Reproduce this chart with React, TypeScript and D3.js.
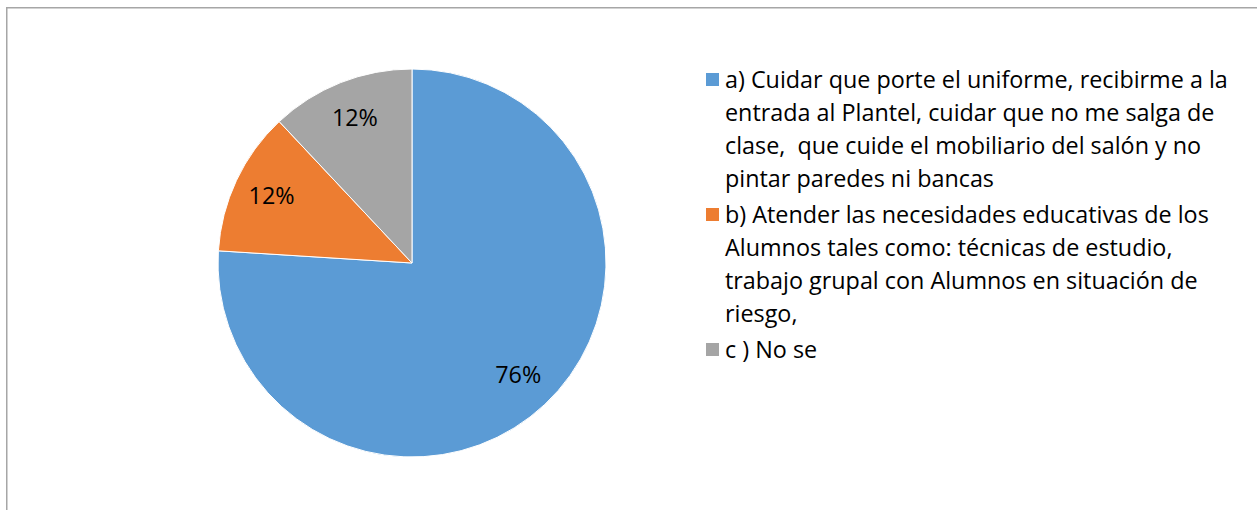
import React, { useLayoutEffect, useRef, useState } from "react";
import * as d3 from "d3";

const categories = ["a", "b", "c"];
const values = [76, 12, 12];
const valueLabels = ["76%", "12%", "12%"];
const legendLines = [
  [
    "a) Cuidar que porte el uniforme, recibirme a la",
    "entrada al Plantel, cuidar que no me salga de",
    "clase,  que cuide el mobiliario del salón y no",
    "pintar paredes ni bancas",
  ],
  [
    "b) Atender las necesidades educativas de los",
    "Alumnos tales como: técnicas de estudio,",
    "trabajo grupal con Alumnos en situación de",
    "riesgo,",
  ],
  ["c ) No se"],
];
const colors = ["#5B9BD5", "#ED7D31", "#A5A5A5"];

export default function App() {
  const W = 1257, H = 510;
  const cx = 412, cy = 263, r = 194;
  const pie = d3.pie<number>().sort(null).value((d) => d)(values);
  const arc = d3.arc<d3.PieArcDatum<number>>().innerRadius(0).outerRadius(r);
  const labelArc = d3.arc<d3.PieArcDatum<number>>().innerRadius(r * 0.8).outerRadius(r * 0.8);
  const font = "'Open Sans', sans-serif";
  const lineH = 33;
  const legendX = 725, sqX = 706;
  const svgRef = useRef<SVGSVGElement>(null);
  const [fs, setFs] = useState(21.5);
  useLayoutEffect(() => {
    const svg = svgRef.current;
    if (!svg) return;
    const t = d3.select(svg).append("text")
      .attr("x", 10).attr("y", 30)
      .attr("font-family", font).attr("font-size", 20)
      .style("white-space", "pre").attr("opacity", 0)
      .text(legendLines[0][0]);
    const len = (t.node() as SVGTextElement).getComputedTextLength();
    t.remove();
    if (len > 0) setFs((20 * 503) / len);
  }, []);
  let y = 79;
  const legendItems: { i: number; y0: number; lines: string[] }[] = [];
  legendLines.forEach((lines, i) => {
    legendItems.push({ i, y0: y, lines });
    y += lines.length * lineH + 3;
  });
  return (
    <svg ref={svgRef} width={W} height={H} style={{ position: "absolute", left: 0, top: 0, background: "#fff" }}>
      <rect x={6.75} y={7.75} width={W + 20} height={H + 20} fill="#fff" stroke="#a6a6a6" strokeWidth={1.5} />
      <g transform={`translate(${cx},${cy})`}>
        {pie.map((p, i) => (
          <path key={categories[i]} d={arc(p) || ""} fill={colors[i]} stroke="#fff" strokeWidth={1} />
        ))}
        {pie.map((p, i) => {
          const [lx, ly] = labelArc.centroid(p);
          return (
            <text key={"l" + i} x={lx} y={ly - 2} textAnchor="middle" dominantBaseline="central"
              fontFamily={font} fontSize={fs} fill="#000">
              {valueLabels[i]}
            </text>
          );
        })}
      </g>
      {legendItems.map((it) => (
        <g key={"lg" + it.i}>
          <rect x={sqX} y={it.y0 - 6} width={13} height={13} fill={colors[it.i]} />
          {it.lines.map((ln, j) => (
            <text key={j} x={legendX} y={it.y0 + j * lineH} dominantBaseline="central"
              fontFamily={font} fontSize={fs} fill="#000" style={{ whiteSpace: "pre" }}>
              {ln}
            </text>
          ))}
        </g>
      ))}
    </svg>
  );
}
